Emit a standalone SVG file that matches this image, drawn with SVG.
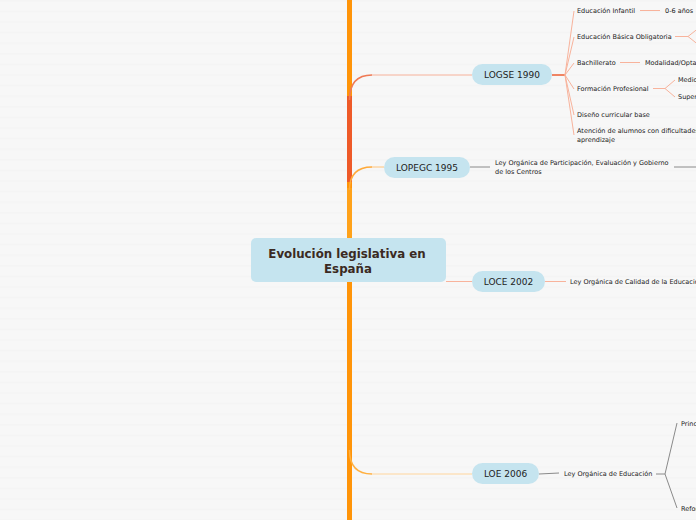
<svg xmlns="http://www.w3.org/2000/svg" width="696" height="520" viewBox="0 0 696 520">
<defs>
<pattern id="bg" width="10" height="10.6" patternUnits="userSpaceOnUse">
<rect width="10" height="10.6" fill="#f7f7f7"/>
<rect y="0" width="10" height="1.4" fill="#f4f4f4"/>
</pattern>
</defs>
<style>
.node rect{fill:#c5e4ef}
.nt{font-family:"DejaVu Sans",sans-serif;font-size:9px;fill:#222;text-anchor:middle}
.ct{font-family:"DejaVu Sans",sans-serif;font-size:11.8px;font-weight:bold;fill:#3b2a22;text-anchor:middle}
.st{font-family:"DejaVu Sans",sans-serif;font-size:6.5px;fill:#222}
.sal{stroke:#f8b39c;stroke-width:1;fill:none}
.gry{stroke:#8a8a8a;stroke-width:1;fill:none}
</style>
<rect width="696" height="520" fill="url(#bg)"/>
<g id="connectors">
<line x1="349.5" y1="0" x2="349.5" y2="520" stroke="#ff9408" stroke-width="5"/>
<path d="M349.5,182 L349.5,96" stroke="#ee5a28" stroke-width="5" fill="none"/>
<path d="M349.5,100 Q349.5,75 372,75" stroke="#ef7a55" stroke-width="1.6" fill="none"/>
<line x1="372" y1="75" x2="472" y2="75" class="sal"/>
<path d="M349.5,250 L349.5,188" stroke="#ffa21a" stroke-width="5" fill="none"/>
<path d="M349.5,190 Q349.5,167 372,167" stroke="#ffaa3a" stroke-width="1.5" fill="none"/>
<line x1="372" y1="167" x2="384" y2="167" stroke="#ffc47a" stroke-width="1"/>
<path d="M349.5,450 Q349.5,474 372,474" stroke="#ffb040" stroke-width="1.5" fill="none"/>
<line x1="372" y1="474" x2="472" y2="474" stroke="#ffd59c" stroke-width="1"/>
<line x1="446" y1="281.5" x2="472" y2="281.5" class="sal"/>
<line x1="552" y1="75" x2="565" y2="75" stroke="#ee6a40" stroke-width="1.6"/>
<path d="M565,75 L574,11 M565,75 L574,37 M565,75 L574,63 M565,75 L574,89 M565,75 L574,115 M565,75 L574,135" class="sal"/>
<line x1="640" y1="10.5" x2="660" y2="10.5" class="sal"/>
<line x1="675" y1="36.5" x2="688" y2="36.5" class="sal"/>
<path d="M688,36.5 L700,27 M688,36.5 L700,46" class="sal"/>
<line x1="620" y1="62.5" x2="640" y2="62.5" class="sal"/>
<line x1="653" y1="88.5" x2="665" y2="88.5" class="sal"/>
<path d="M665,88.5 L675,80 M665,88.5 L675,97" class="sal"/>
<line x1="470" y1="167" x2="490" y2="167" class="gry"/>
<line x1="674" y1="167" x2="696" y2="167" class="gry"/>
<line x1="545" y1="281.5" x2="566" y2="281.5" class="sal"/>
<path d="M539,474 L559,473" class="gry"/>
<line x1="656" y1="474" x2="665" y2="474" class="gry"/>
<path d="M665,474 L677,423 M665,474 L677,508" class="gry"/>
</g>
<g id="central" class="node">
<rect x="251" y="238" width="195" height="44" rx="5"/>
<text class="ct" x="347" y="258">Evolución legislativa en</text>
<text class="ct" x="348" y="273">España</text>
</g>
<g id="logse" class="node">
<rect x="472" y="64" width="80" height="21" rx="10.5"/>
<text class="nt" x="512" y="78">LOGSE 1990</text>
</g>
<g id="lopegc" class="node">
<rect x="384" y="157" width="86" height="21" rx="10.5"/>
<text class="nt" x="427" y="171">LOPEGC 1995</text>
</g>
<g id="loce" class="node">
<rect x="472" y="271" width="73" height="21" rx="10.5"/>
<text class="nt" x="508.5" y="285">LOCE 2002</text>
</g>
<g id="loe" class="node">
<rect x="472" y="463" width="67" height="21" rx="10.5"/>
<text class="nt" x="505.5" y="477">LOE 2006</text>
</g>
<g id="logse-children">
<text class="st" x="577" y="13">Educación Infantil</text>
<text class="st" x="665" y="13">0-6 años</text>
<text class="st" x="577" y="39">Educación Básica Obligatoria</text>
<text class="st" x="577" y="65">Bachillerato</text>
<text class="st" x="645" y="65">Modalidad/Optativas</text>
<text class="st" x="577" y="91">Formación Profesional</text>
<text class="st" x="678" y="82">Medio</text>
<text class="st" x="678" y="99">Superior</text>
<text class="st" x="577" y="117">Diseño curricular base</text>
<text class="st" x="577" y="133">Atención de alumnos con dificultades de</text>
<text class="st" x="577" y="142">aprendizaje</text>
</g>
<g id="lopegc-child">
<text class="st" x="495" y="165">Ley Orgánica de Participación, Evaluación y Gobierno</text>
<text class="st" x="495" y="174">de los Centros</text>
</g>
<g id="loce-child">
<text class="st" x="570" y="284">Ley Orgánica de Calidad de la Educación</text>
</g>
<g id="loe-children">
<text class="st" x="564" y="476">Ley Orgánica de Educación</text>
<text class="st" x="681" y="426">Principios</text>
<text class="st" x="681" y="511">Reformas</text>
</g>
</svg>
